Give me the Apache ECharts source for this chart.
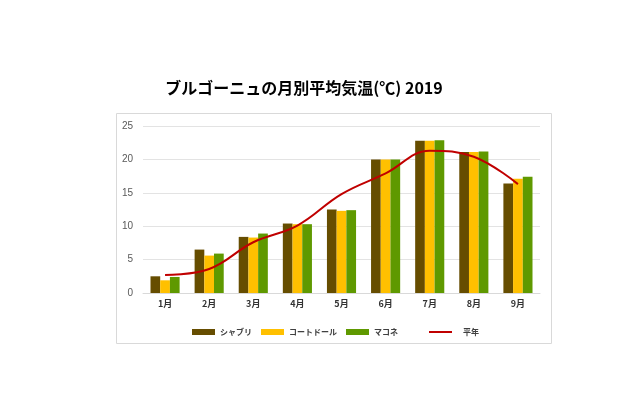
<!DOCTYPE html>
<html>
<head>
<meta charset="utf-8">
<script src="https://cdn.jsdelivr.net/npm/echarts@6/dist/echarts.min.js"></script>
<style>
  html, body { margin: 0; padding: 0; background: #fff; }
  #chart { width: 640px; height: 399px; }
</style>
</head>
<body>
<div id="chart"></div>
<script>
const months = ['1月', '2月', '3月', '4月', '5月', '6月', '7月', '8月', '9月'];
const chablis = [2.5, 6.5, 8.4, 10.4, 12.5, 20.0, 22.8, 21.1, 16.4];
const coteDor = [1.9, 5.6, 8.3, 10.3, 12.3, 20.0, 22.8, 21.1, 17.1];
const maconnais = [2.4, 5.9, 8.9, 10.3, 12.4, 20.0, 22.85, 21.2, 17.4];
const normal = [2.7, 3.6, 7.6, 10.1, 14.8, 17.9, 21.3, 20.4, 16.3];

const font = '"Noto Sans CJK JP", "Noto Sans", sans-serif';

const barSeries = (name, data, color) => ({
  name,
  type: 'bar',
  data,
  barGap: '0%',
  barCategoryGap: '34%',
  itemStyle: { color },
  z: 2
});

const legendText = { fontFamily: font, fontSize: 8, fontWeight: 'bold', color: '#404040' };

const chart = echarts.init(document.getElementById('chart'), null, { renderer: 'canvas' });

chart.setOption({
  animation: false,
  textStyle: { fontFamily: font },
  title: {
    text: 'ブルゴーニュの月別平均気温(℃) 2019',
    left: 299,
    top: 75,
    textAlign: 'center',
    textStyle: { fontFamily: font, fontSize: 16, fontWeight: 'bold', color: '#000' }
  },
  graphic: [{
    type: 'rect',
    shape: { x: 116.5, y: 113.5, width: 435, height: 230 },
    style: { fill: 'none', stroke: '#d9d9d9', lineWidth: 1 },
    z: -1
  }],
  legend: [{
    left: 187,
    top: 323,
    itemWidth: 23,
    itemHeight: 6,
    itemGap: 9,
    icon: 'rect',
    data: ['シャブリ', 'コートドール', 'マコネ'],
    textStyle: legendText
  }, {
    left: 424,
    top: 323,
    itemWidth: 23,
    itemHeight: 2,
    icon: 'rect',
    data: [{ name: '平年', itemStyle: { color: '#c00000' } }],
    textStyle: { ...legendText, padding: [0, 0, 0, 6] }
  }],
  grid: { left: 143, right: 100, top: 126, bottom: 106 },
  xAxis: {
    type: 'category',
    data: months,
    axisLine: { lineStyle: { color: '#d9d9d9' } },
    axisTick: { show: false },
    axisLabel: { fontFamily: font, fontSize: 9, fontWeight: 'bold', color: '#333', margin: 6 }
  },
  yAxis: {
    type: 'value',
    min: 0,
    max: 25,
    interval: 5,
    axisLine: { show: false },
    axisTick: { show: false },
    splitLine: { lineStyle: { color: '#e3e3e3' } },
    axisLabel: { fontFamily: 'Liberation Sans, sans-serif', fontSize: 10, color: '#595959', margin: 10 }
  },
  series: [
    barSeries('シャブリ', chablis, '#664d00'),
    barSeries('コートドール', coteDor, '#ffc000'),
    barSeries('マコネ', maconnais, '#5f9900'),
    {
      name: '平年',
      type: 'line',
      data: normal,
      smooth: 0.4,
      symbol: 'none',
      lineStyle: { color: '#c00000', width: 2 },
      itemStyle: { color: '#c00000' },
      z: 3
    }
  ]
});
</script>
</body>
</html>
